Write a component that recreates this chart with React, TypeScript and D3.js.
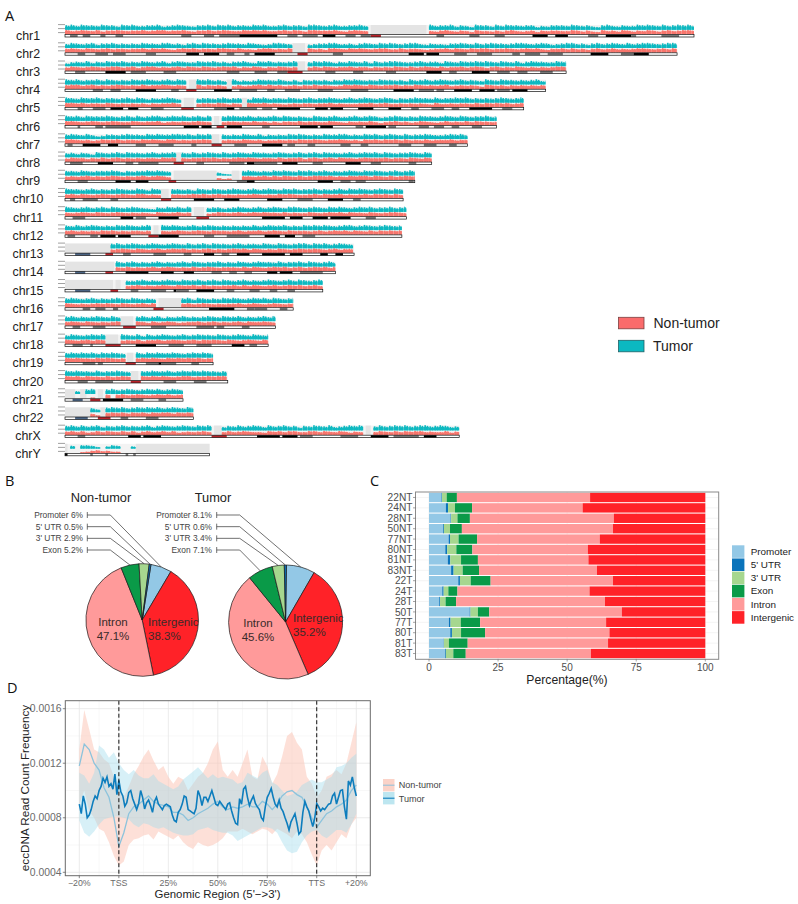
import React from "react";
import * as d3 from "d3";

// ---------- Panel A data ----------
const chromNames = ["chr1","chr2","chr3","chr4","chr5","chr6","chr7","chr8","chr9","chr10","chr11","chr12","chr13","chr14","chr15","chr16","chr17","chr18","chr19","chr20","chr21","chr22","chrX","chrY"];
const chromLengths = [248.9,242.2,198.3,190.2,181.5,170.8,159.3,145.1,138.4,133.8,135.1,133.3,114.4,107.0,102.0,90.3,83.3,80.4,58.6,64.4,46.7,50.8,156.0,57.2];
// regions with no reads, Mb
const chromGaps: number[][][] = [
  [[121,143]],[[90,95]],[[92,95]],[[49,52],[64,66]],[[47,51],[70,72]],[[59,61]],[[58,61]],[[44,46]],[[43,60],[66,69]],[[38,41]],[[51,55]],[[35,37]],
  [[0,18.5]],[[0,19.5]],[[0,19],[20,22]],[[37,46]],[[22,27]],[[16,21]],[[24.5,27]],[[26,29]],[[0,4],[6,8.5],[13,15]],[[0,10.5],[14,16]],[[59,62],[119,121]],[[0,1],[28,57.2]],
];
// read-density per 2 Mb bin, one digit a bin
const tumorDensity = [
  "89798879886989778896789876889798978879897789788699878977889798987657869897889687598869798878857688879878658976877989879789897",
  "79878968897878798879978689798878988798767998789867889977868987989878997687768898797898878998789867899786897898797899878997898",
  "5787968798897879878968987798897868897698978789987989868798796978998778978869879889898798796898877989879897",
  "9897889798787988987897988798978689676798879768587878687989878798878697897898789787698798878789678987889899",
  "987988978878979868789869897887897887698978879878978898789789878986878988797889897878789878987898",
  "98979888987897978997898978979878998897878979878769878977897898678987879887898798788978987898",
  "898797568878988798988998979899887879879687879898787988997879897898797889877898979899",
  "7868759878979887897889887978987978987988789878978979887897898979878898798798",
  "8879878889868788989876000000005320789878798987989789787898798987897898",
  "9887897878987798698788878698798789878978987989788978789798987898798789",
  "9878978979878987658798979869788678987897898799878987989878989788978987898",
  "8797898787989878978989878978987878787978988978798989878997898789878",
  "000000000897898789878987978979887897887987987899798978987",
  "0000000008978978789787897987889787987898879788979878979",
  "00000000005077897878987988978979878978789878979878979",
  "898789787898798787889078969878798987898979878979",
  "897878987978878978968789787898798897878979898",
  "7987898978798796978987897898879878987987979",
  "8989897989878797989889878989878",
  "98988797889878788988978989898878",
  "0050890089789878989789878",
  "00000750898978989897898798978",
  "8979789687897878968987898798979687978986978978587987967898968797898978997898679",
  "05066530465004",
];
const nonTumorDensity = [
  "97898796889878897899788976889789877989897789798699888976898797876789788976897687597768689767858788779868659786986879868978998",
  "89879878978878897989768989788799879776899787987897869987989878997797887678897987989978898789897688979786897897878998789798897",
  "7987898789978968997878979879878989687986879878897979878897886878798797898797889789868978798787878998798897",
  "8997897878987879788987878796878686867897978678687978767989879878897879878789678787598786878787878898798788",
  "998978879878787868788979787887986877988978767878878897877788978977878787697787887979898978979798",
  "99878987898779878896787878987877887879786868879788779876878797578978679876797879798878987897",
  "998786798897887989879978788989978779878677878798898788987869897989797879788897887998",
  "7988687978978787887989787889897878989878879788968978979887898889788798798989",
  "7878978789878789789868000000004230988789797987978998978798997987978989",
  "8979878987898799787978878989789787878987879898778979889787897989797989",
  "8789879878987878769878978978679878978989887978779878989798879878998797989",
  "8978787989787887897878987898798878978897898798887897898979879798989",
  "000000000789879878978989787897878989798787987898898789788",
  "0000000009879787897898787978987888797987898978978989799",
  "00000000009078978789879889797878897979878978989789798",
  "987878989879878979879078978987878897898789878989",
  "898798787898979869789867889789787897988987897899",
  "9878979878978796889789878979898798789879899",
  "9898879898788989898798989897899",
  "98979887978987898989878997889899",
  "0000026080897898789897899",
  "00000630898979897989979898978",
  "7868568687686857867868567678687686787665878688668868768757678687686878867668578",
  "00023564533",
];
// cytobands: letter + length in Mb (w white, g gray, k black, r centromere, s stalk)
const chromBands = [
  "w2g3w2g3w4g2w4g3w23g4w5g4w2g8k15w4g4w2g6w2k5w4g4w2g4r4w22g3w10g4w6g4w11k6w3k5w8g4w3k10g2w10g7w6",
  "w5g3w4g5w2g5w8g4w12k5w2k6w3g3w4g2w2k8w9r4w10g4w26k6w1k5w6g5w4g6w8g3w2g6w3g6w11k7w5g5k6w12",
  "w4g4w8k8w2g6w7g5w20g5w6g5w4g4r6w9g4w7g4w9g4w12k6w3g3w6k7w3g5w3g4w5g5w5",
  "w11g4w3g4w6k8w6g3w3r4w7k7w3g7w4g3w4g6w7g6w7g7w10k8w2g6w1g3w4k7w3k6w1g5w1k6w7",
  "w5g2w4g5w2k5w2k4w5g5w7r5w8g5k3w2g7w2g4w2k9w6k5w1k5w6k6w6k5w4g3w5g5w3g3w4k9w4g4w4",
  "w5g1w6g3w1g10w21k6w1k4w2r3w1k6w8g3w12k7w1k5w9g3w1k8w1g3w9g4w2g4w3g3w5g4w7",
  "w1g2w4k7w3k4w7g4w5g6w7g2w6r4w5g5w6k8w2g3w5g3w10g4w4g3w12g5w5g5w5g3w10",
  "w2g5w6k6w5g3w2g8w6r4w5g3w10g6w1k3g9w2k6w6g4w9k6w4g4w11g3w6",
  "w5g4w11k6w2k5w8r3w24g4k3w25k6w3g4w2g4w17g2",
  "w2g2w3g6w5g3w17r4w9k8w4k6w11k6w6g6w6k6w4g3w17",
  "w3g5w14k5w1g4w5k8w7r5w21k9w2k5w4k6w1k8w6g4w14",
  "w1g3w6g3w1k6w1k5w7r4k8w10g4w5g9w6k6w2k4w3g5w20",
  "w4s6w6r3w4g3w9g5w7g3w5k4w3g3w3k5w5k9w2k5w7k3w3k3w5",
  "w4s4w8r3w5k9w5k5w4k4w7g4w3g3w3g3w6k4w1k5w3g9w3",
  "w4s6w8r3w5g3w5g6w3k1g5w3k7w5g3w6g4w4g3w4g3",
  "w7g3w2g4w3g2w14r4w18k10w5g3g5w5g3w6",
  "w3g3w5g5w7r5w6g6w12g7w1g3w7g3w10",
  "w3g4w3g1w5r6w6k8w5g6w5g6w8k5w2g3w6",
  "w7g5w1g2w9r4w4g5k1g6w6g3w5",
  "w5g4w3g7w7r4w9g5w7g5w8",
  "w3s4w3r4w1k8w3g5w6g3w7",
  "w4s5w4r5w4g3w7g5w14",
  "w5g3w17k5w1k7w20r6w12k9w1k6w1g5w11g7w5k7w2g10w2k5w9",
  "k1w9g1w5g1w7g1w2g1w30",
];

// ---------- Panel B data ----------
const pieKeysOrder = ["Promoter","Intergenic","Intron","Exon","3' UTR","5' UTR"];
const pieNonTumor = [6, 38.3, 47.1, 5.2, 2.9, 0.5];
const pieTumor = [8.1, 35.2, 45.6, 7.1, 3.4, 0.6];
const leaderKeys = ["Promoter","5' UTR","3' UTR","Exon"];

// ---------- Panel C data ----------
const samples = ["22NT","24NT","28NT","50NT","77NT","80NT","81NT","83NT","22T","24T","28T","50T","77T","80T","81T","83T"];
const regionKeys = ["Promoter","5' UTR","3' UTR","Exon","Intron","Intergenic"];
const promoterPct = [4.5,6.1,7.8,5.1,7.1,5.9,6.8,8.0,10.6,4.8,3.7,14.7,7.2,7.7,5.3,5.8];
const utr5Pct = [0.2,0.8,0.2,0.3,0.5,0.7,0.9,0.9,0.6,0.5,0.3,0.3,0.6,0.6,0.1,0.3];
const utr3Pct = [1.7,2.5,2.3,2.2,3.1,3.3,3.9,3.3,3.9,1.7,2.0,2.7,3.7,3.3,1.8,2.7];
const exonPct = [3.7,6.2,4.5,4.3,6.7,5.8,6.1,5.9,7.2,3.3,3.8,4.1,7.0,8.7,6.8,4.5];
const intronPct = [48.2,40.0,52.1,54.7,44.4,41.8,40.0,42.7,44.3,47.8,53.9,48.0,45.6,45.0,50.8,45.3];
const intergenicPct = [41.7,44.4,33.1,33.4,38.2,42.5,42.3,39.2,33.4,41.9,36.3,30.2,35.9,34.7,35.2,41.4];
const regionColors = ["#93c8e6","#0b74bb","#a6d78f","#0a9a48","#ff9a9a","#ff2228"];
const pctTicks = [0,25,50,75,100];

// ---------- Panel D data ----------
const tumorMean = [900,830,960,900,800,820,860,920,960,940,1000,1030,1090,1060,1100,1030,1050,1010,1120,970,1075,
  990,960,885,910,985,1000,940,900,860,905,1000,950,865,910,930,890,840,920,950,900,880,860,890,900,890,880,820,780,770,840,860,900,960,950,860,850,840,830,870,1000,960,890,950,950,920,960,1000,950,900,890,920,900,880,860,900,910,850,800,760,
  750,940,900,1010,1030,950,890,930,960,905,880,860,800,780,880,950,980,1015,950,900,880,930,870,845,800,760,710,770,800,830,760,680,700,840,920,880,850,790,735,800,905,880,850,870,860,880,900,905,960,980,900,950,1000,1005,880,790,1070,1040,1100,1020,960];
const nonTumorMean = [1180,1340,1300,1200,1150,1020,950,800,590,690,830,880,900,930,960,920,900,890,880,840,840,820,780,800,830,850,870,900,920,880,860,880,870,880,900,880,880,920,900,860,900,960,990,1000,970,950,880,800,730,780,830,850,880,900,930,1000,1040];
const nonTumorHigh = [1300,1590,1450,1300,1280,1230,1200,1100,1000,950,1030,1120,1180,1250,1300,1220,1150,1180,1100,1050,1100,1080,1000,1050,1100,1130,1200,1300,1360,1150,1100,1150,1100,1200,1300,1100,1080,1250,1180,1050,1120,1250,1400,1430,1350,1300,1100,1050,950,1000,1100,1120,1150,1120,1200,1350,1500];
const nonTumorLow = [900,1000,850,800,720,700,620,520,450,480,600,640,650,670,680,640,700,680,660,640,670,620,590,570,620,600,590,600,620,650,700,700,700,720,700,680,700,720,710,680,720,700,680,650,700,680,620,530,450,560,600,560,620,680,650,750,800];
const tumorHigh = [1130,1110,1050,1130,1330,1300,1240,1280,1200,1150,1120,1150,1110,1090,1090,1120,1070,1050,1030,1010,1030,1080,1110,1140,1170,1130,1090,1120,1090,1100,1090,1080,1050,1060,1130,1110,1090,1130,1150,1060,1040,1000,960,970,990,1040,1060,1080,1060,1060,1080,1100,1170,1180,1200,1240,1270];
const tumorLow = [780,690,660,700,750,790,800,810,810,800,790,750,730,760,750,730,720,730,710,690,680,670,670,680,710,720,730,710,700,690,690,670,630,650,670,690,710,730,730,720,690,620,560,540,550,620,670,700,710,670,650,680,710,710,690,750,830];
const ecTicks = [0.0004,0.0008,0.0012,0.0016];
const regionTickPos = [-20,0,25,50,75,100,120];
const regionTickLabels = ["−20%","TSS","25%","50%","75%","TTS","+20%"];

// ---------- helpers ----------
const sans = "'Liberation Sans', Arial, sans-serif";
const binMb = 2;
const trackColors = { tumor: "#0bb9c1", nonTumor: "#f8766d" };
const bandFill: Record<string,string> = { w:"#ffffff", g:"#777777", k:"#000000", r:"#b8232a", s:"#4a6484" };

function parseBands(s: string) {
  let pos = 0;
  const out: { type: string; a: number; b: number }[] = [];
  for (const m of s.matchAll(/([a-z])(\d+)/g)) {
    const len = +m[2];
    out.push({ type: m[1], a: pos, b: pos + len });
    pos += len;
  }
  return out;
}

function PanelA() {
  const x = d3.scaleLinear().domain([0, 248.9]).range([65, 694]);
  const rowY = d3.scaleLinear().domain([0, 23]).range([24.6, 443.4]);
  const mbW = x(1) - x(0);
  return (
    <g>
      <defs>
        <filter id="soft" x="-2%" y="-20%" width="104%" height="140%"><feGaussianBlur stdDeviation="0.3" /></filter>
      </defs>
      <text x={5} y={21} fontFamily="'Open Sans', sans-serif" fontSize={14.5} fill="#111">A</text>
      {chromNames.map((name, i) => {
        const y0 = rowY(i);
        const L = chromLengths[i];
        const inGap = (mb: number) => chromGaps[i].some(([a, b]) => mb + binMb > a + 0.6 && mb < b - 0.6);
        const bins = d3.range(0, Math.ceil(L / binMb));
        const tH = d3.scaleLinear().domain([0, 9]).range([0, 5.2]);
        const nH = d3.scaleLinear().domain([0, 9]).range([0, 4.4]);
        const spikes = (str: string, base: number, H: any, fill: string, solid: number) =>
          bins.map((b) => {
            const mb = b * binMb;
            const d = +(str[b] ?? "0");
            if (!d || inGap(mb)) return null;
            const w = Math.min(binMb, L - mb) * mbW;
            const h = H(d);
            return (
              <g key={b} fill={fill}>
                <rect x={x(mb)} y={base - h * solid} width={w} height={h * solid} />
                <rect x={x(mb) + w * 0.1} y={base - h} width={w * 0.32} height={h} />
                <rect x={x(mb) + w * 0.56} y={base - h * 0.88} width={w * 0.3} height={h * 0.88} />
              </g>
            );
          });
        return (
          <g key={name}>
            <text x={28} y={y0 + 15} textAnchor="middle" fontFamily={sans} fontSize={12.4} fill="#222">{name}</text>
            {[0, 4, 8].map((d) => (
              <line key={d} x1={58} x2={65} y1={y0 + d} y2={y0 + d} stroke="#888" strokeWidth={0.8} />
            ))}
            <rect x={x(0)} y={y0 + 0.4} width={L * mbW} height={9.2} fill="#f3f3f3" />
            {chromGaps[i].map(([a, b], k) => (
              <rect key={k} x={x(a)} y={y0 + 0.4} width={(b - a) * mbW} height={9.2} fill="#e4e4e4" />
            ))}
            <g filter="url(#soft)">
              {spikes(tumorDensity[i], y0 + 5.2, tH, trackColors.tumor, 0.68)}
              {spikes(nonTumorDensity[i], y0 + 9.7, nH, trackColors.nonTumor, 0.8)}
            </g>
            <rect x={x(0)} y={y0 + 10} width={L * mbW} height={2.4} fill="#fff" />
            {parseBands(chromBands[i]).filter((s) => s.type !== "w" && s.a < L).map((s, k) => (
              <rect key={k} x={x(s.a)} y={y0 + 10} width={(Math.min(s.b, L) - s.a) * mbW} height={2.4} fill={bandFill[s.type]} />
            ))}
            <rect x={x(0)} y={y0 + 10} width={L * mbW} height={2.4} fill="none" stroke="#111" strokeWidth={0.7} />
          </g>
        );
      })}
      <rect x={618.5} y={317.3} width={25.5} height={11.5} fill="#fa6b6b" stroke="#7a4040" strokeWidth={0.8} />
      <rect x={618.5} y={340.3} width={25.5} height={11.5} fill={trackColors.tumor} stroke="#1f6266" strokeWidth={0.8} />
      <text x={653.5} y={328} fontFamily={sans} fontSize={14} fill="#222">Non-tumor</text>
      <text x={653} y={351} fontFamily={sans} fontSize={14} fill="#222">Tumor</text>
    </g>
  );
}

function Pie({ values, cx, cy, r, title, titleX, promoterEndDeg, lineStart, labelEnd, names }: any) {
  const rad = Math.PI / 180;
  const start = (promoterEndDeg - values[0] * 3.6) * rad;
  const arcs = d3.pie<number>().sort(null).startAngle(start).endAngle(start + 2 * Math.PI)(values);
  const arc = d3.arc<any>().innerRadius(0).outerRadius(r);
  const fills = pieKeysOrder.map((k) => regionColors[regionKeys.indexOf(k)]);
  const labelY = d3.scaleLinear().domain([0, 3]).range([515, 550]);
  return (
    <g>
      <text x={titleX} y={501.5} textAnchor="middle" fontFamily={sans} fontSize={12.8} fill="#222">{title}</text>
      {arcs.map((a, i) => (
        <path key={i} transform={`translate(${cx},${cy})`} d={arc(a) as string} fill={fills[i]} stroke="#1a1a1a" strokeWidth={0.7} />
      ))}
      {leaderKeys.map((k, i) => {
        const a = arcs[pieKeysOrder.indexOf(k)];
        const mid = (a.startAngle + a.endAngle) / 2;
        const ex = cx + Math.sin(mid) * r;
        const ey = cy - Math.cos(mid) * r;
        const v = values[pieKeysOrder.indexOf(k)];
        const y = labelY(i);
        return (
          <g key={k}>
            <text x={labelEnd} y={y + 3} textAnchor="end" fontFamily={sans} fontSize={8.4} fill="#444">{`${k} ${v}%`}</text>
            <line x1={lineStart} x2={lineStart} y1={y - 3} y2={y + 3} stroke="#333" strokeWidth={0.7} />
            <polyline points={`${lineStart},${y} ${lineStart + 23},${y} ${ex},${ey}`} fill="none" stroke="#333" strokeWidth={0.7} />
          </g>
        );
      })}
      {names.map((n: any) => (
        <g key={n.t} fontFamily={sans} fontSize={11.5} fill="#3a2a2a" textAnchor={n.anchor}>
          <text x={n.x} y={n.y}>{n.t}</text>
          <text x={n.x} y={n.y + 14}>{n.v}</text>
        </g>
      ))}
    </g>
  );
}

function PanelB() {
  return (
    <g>
      <text x={5} y={486} fontFamily="'Open Sans', sans-serif" fontSize={14.5} fill="#111">B</text>
      <Pie values={pieNonTumor} cx={142.2} cy={620} r={56.3} title="Non-tumor" titleX={101} promoterEndDeg={30.6} lineStart={87.3} labelEnd={83}
        names={[{ t: "Intron", v: "47.1%", x: 113, y: 626, anchor: "middle" }, { t: "Intergenic", v: "38.3%", x: 148, y: 626, anchor: "start" }]} />
      <Pie values={pieTumor} cx={285.6} cy={622} r={57} title="Tumor" titleX={213} promoterEndDeg={30} lineStart={216.7} labelEnd={212}
        names={[{ t: "Intron", v: "45.6%", x: 258, y: 627, anchor: "middle" }, { t: "Intergenic", v: "35.2%", x: 293, y: 622, anchor: "start" }]} />
    </g>
  );
}

function PanelC() {
  const x = d3.scaleLinear().domain([0, 100]).range([429, 705.3]);
  const y = d3.scaleBand().domain(samples).range([492.8, 658.2]).paddingInner(0.1);
  const rows = samples.map((s, i) => ({ s, "Promoter": promoterPct[i], "5' UTR": utr5Pct[i], "3' UTR": utr3Pct[i], "Exon": exonPct[i], "Intron": intronPct[i], "Intergenic": intergenicPct[i] }));
  const stacked = d3.stack<any>().keys(regionKeys)(rows);
  const legendY = d3.scaleBand().domain(regionKeys).range([545, 624]);
  return (
    <g fontFamily={sans}>
      <text x={370} y={486} fontFamily="'Open Sans', sans-serif" fontSize={14.5} fill="#111">C</text>
      {samples.map((s) => (
        <line key={s} x1={415.5} x2={718.5} y1={y(s)! + y.bandwidth() / 2} y2={y(s)! + y.bandwidth() / 2} stroke="#ececec" strokeWidth={0.6} />
      ))}
      {pctTicks.map((t) => (
        <line key={t} x1={x(t)} x2={x(t)} y1={492} y2={659.3} stroke="#ececec" strokeWidth={0.6} />
      ))}
      {stacked.map((ser, i) =>
        ser.map((d: any, j: number) => (
          <rect key={j} x={x(d[0])} width={x(d[1]) - x(d[0])} y={y(samples[j])} height={y.bandwidth()} fill={regionColors[i]} />
        ))
      )}
      <rect x={415.5} y={492} width={303.2} height={167.3} fill="none" stroke="#8a8a8a" strokeWidth={1} />
      {samples.map((s) => (
        <g key={s}>
          <line x1={413} x2={415.5} y1={y(s)! + y.bandwidth() / 2} y2={y(s)! + y.bandwidth() / 2} stroke="#666" strokeWidth={0.6} />
          <text x={412.5} y={y(s)! + y.bandwidth() / 2 + 3.6} textAnchor="end" fontSize={10.2} fill="#4d4d4d">{s}</text>
        </g>
      ))}
      {pctTicks.map((t) => (
        <g key={t}>
          <line x1={x(t)} x2={x(t)} y1={659.3} y2={661.5} stroke="#666" strokeWidth={0.6} />
          <text x={x(t)} y={670.8} textAnchor="middle" fontSize={10} fill="#4d4d4d">{t}</text>
        </g>
      ))}
      <text x={567} y={683.5} textAnchor="middle" fontSize={12.2} fill="#222">Percentage(%)</text>
      {regionKeys.map((k, i) => (
        <g key={k}>
          <rect x={732} y={legendY(k)! + 0.3} width={12.4} height={legendY.bandwidth() - 0.6} fill={regionColors[i]} />
          <text x={750.7} y={legendY(k)! + legendY.bandwidth() / 2 + 3.4} fontSize={9.9} fill="#222">{k}</text>
        </g>
      ))}
    </g>
  );
}

function PanelD() {
  const x = d3.scaleLinear().domain([-20, 120]).range([79.3, 356.3]);
  const y = d3.scaleLinear().domain([0.0004, 0.0016]).range([872.3, 708.7]);
  const p1 = tumorMean.map((_, i) => i - 20);
  const p25 = nonTumorMean.map((_, i) => i * 2.5 - 20);
  const line = d3.line<[number, number]>().x((d) => x(d[0])).y((d) => y(d[1] * 1e-6));
  const band = d3.area<[number, number, number]>().x((d) => x(d[0])).y0((d) => y(d[1] * 1e-6)).y1((d) => y(d[2] * 1e-6));
  const left = 65.3, right = 370.3, top = 700.7, bot = 875.7;
  const minorX = regionTickPos.slice(0, -1).map((t, i) => (t + regionTickPos[i + 1]) / 2);
  const minorY = ecTicks.slice(0, -1).map((t, i) => (t + ecTicks[i + 1]) / 2);
  return (
    <g fontFamily={sans}>
      <text x={7} y={693} fontFamily="'Open Sans', sans-serif" fontSize={14.5} fill="#111">D</text>
      {minorX.map((t) => <line key={t} x1={x(t)} x2={x(t)} y1={top} y2={bot} stroke="#f3f3f3" strokeWidth={0.6} />)}
      {minorY.map((t) => <line key={t} x1={left} x2={right} y1={y(t)} y2={y(t)} stroke="#f3f3f3" strokeWidth={0.6} />)}
      {regionTickPos.map((t) => <line key={t} x1={x(t)} x2={x(t)} y1={top} y2={bot} stroke="#e6e6e6" strokeWidth={0.8} />)}
      {ecTicks.map((t) => <line key={t} x1={left} x2={right} y1={y(t)} y2={y(t)} stroke="#e6e6e6" strokeWidth={0.8} />)}
      <path d={band(p25.map((p, i) => [p, nonTumorLow[i], nonTumorHigh[i]]) as any) as string} fill="#fbc7b8" opacity={0.55} />
      <path d={band(p25.map((p, i) => [p, tumorLow[i], tumorHigh[i]]) as any) as string} fill="#9fdcec" opacity={0.42} />
      <path d={line(p25.map((p, i) => [p, nonTumorMean[i]]) as any) as string} fill="none" stroke="#8cc3dc" strokeWidth={1.3} />
      <path d={line(p1.map((p, i) => [p, tumorMean[i]]) as any) as string} fill="none" stroke="#0d7dbd" strokeWidth={1.6} />
      {[0, 100].map((t) => (
        <line key={t} x1={x(t)} x2={x(t)} y1={top} y2={bot} stroke="#111" strokeWidth={1} strokeDasharray="4 2.5" />
      ))}
      <rect x={left} y={top} width={right - left} height={bot - top} fill="none" stroke="#6a6a6a" strokeWidth={1} />
      {ecTicks.map((t) => (
        <g key={t}>
          <line x1={left - 2.5} x2={left} y1={y(t)} y2={y(t)} stroke="#555" strokeWidth={0.7} />
          <text x={61.5} y={y(t) + 3.6} textAnchor="end" fontSize={10.4} fill="#6b6b6b">{t.toFixed(4)}</text>
        </g>
      ))}
      {regionTickPos.map((t, i) => (
        <g key={t}>
          <line x1={x(t)} x2={x(t)} y1={bot} y2={bot + 2.5} stroke="#555" strokeWidth={0.7} />
          <text x={x(t)} y={885.8} textAnchor="middle" fontSize={8.8} fill="#6b6b6b">{regionTickLabels[i]}</text>
        </g>
      ))}
      <text transform="translate(28.5,788) rotate(-90)" textAnchor="middle" fontSize={11.7} fill="#222">eccDNA Read Count Frequency</text>
      <text x={217.5} y={898} textAnchor="middle" fontSize={11.4} fill="#222">{"Genomic Region (5'−>3')"}</text>
      <rect x={383} y={779} width={11.5} height={12.4} fill="#fbd3c8" />
      <rect x={383} y={792} width={11.5} height={12.4} fill="#bde6f0" />
      <line x1={383} x2={394.5} y1={785.2} y2={785.2} stroke="#8cc3dc" strokeWidth={1} />
      <line x1={383} x2={394.5} y1={798.2} y2={798.2} stroke="#0d7dbd" strokeWidth={1.1} />
      <text x={398.7} y={788.3} fontSize={9.1} fill="#444">Non-tumor</text>
      <text x={398.7} y={801.8} fontSize={9.1} fill="#444">Tumor</text>
    </g>
  );
}

export default function App() {
  return (
    <svg width={798} height={904} viewBox="0 0 798 904" style={{ position: "absolute", left: 0, top: 0, display: "block", background: "#fff" }}>
      <PanelA />
      <PanelB />
      <PanelC />
      <PanelD />
    </svg>
  );
}
